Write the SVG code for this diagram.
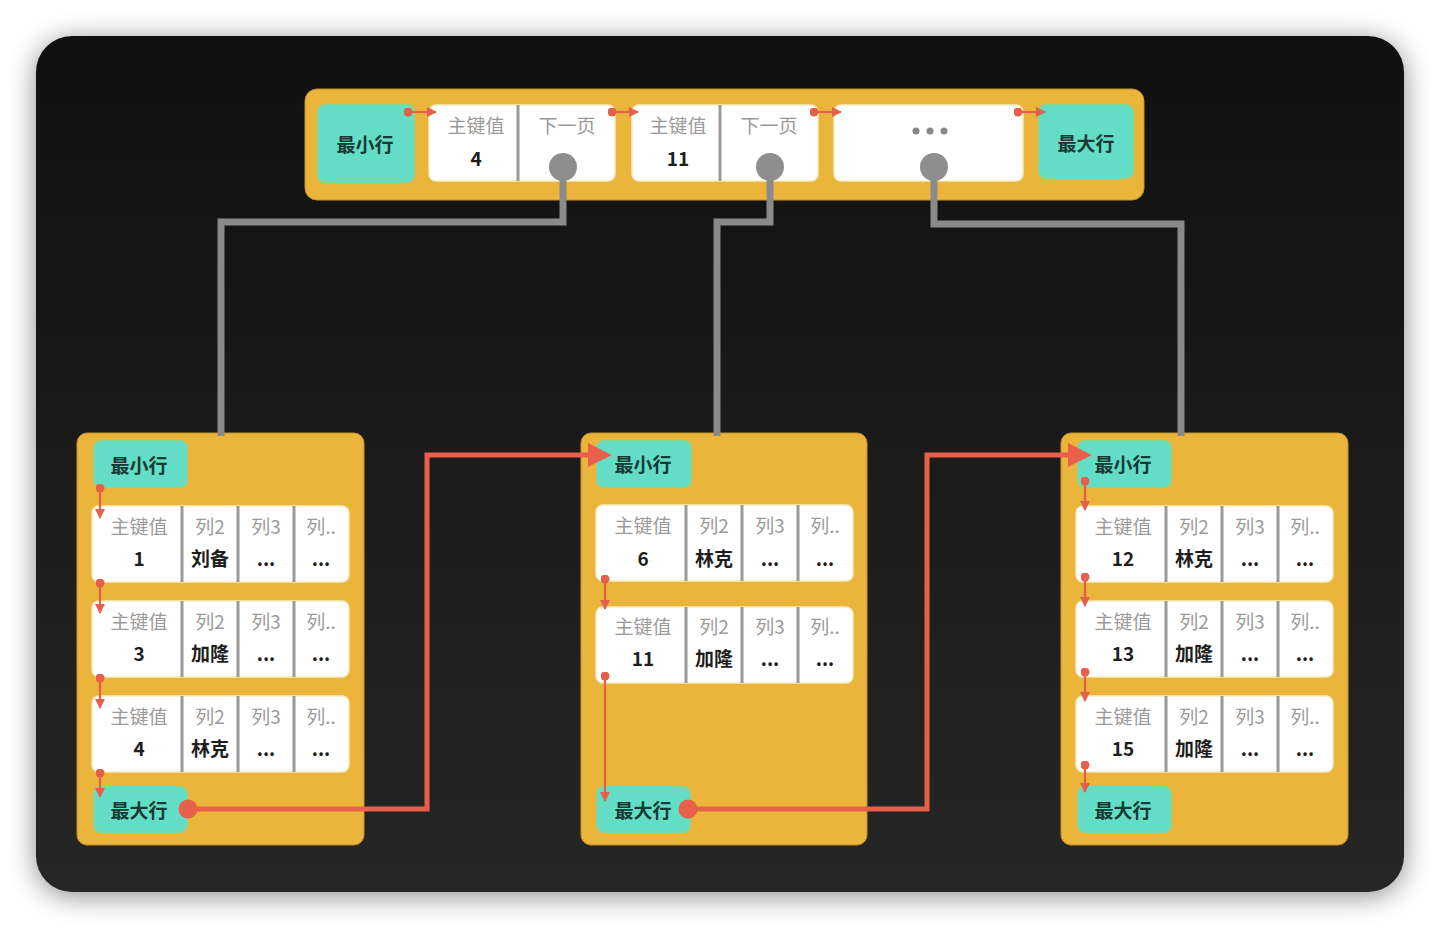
<svg xmlns="http://www.w3.org/2000/svg" xmlns:xlink="http://www.w3.org/1999/xlink" width="1440" height="928" viewBox="0 0 1440 928">
<defs>
<linearGradient id="bg" x1="0" y1="0" x2="0" y2="1">
<stop offset="0" stop-color="#101010"/>
<stop offset="1" stop-color="#262626"/>
</linearGradient>
<filter id="sh" x="-10%" y="-10%" width="120%" height="120%">
<feGaussianBlur stdDeviation="14"/>
</filter>
<marker id="dot" viewBox="0 0 10 10" refX="5" refY="5" markerWidth="9" markerHeight="9" markerUnits="userSpaceOnUse">
<circle cx="5" cy="5" r="5" fill="#E5604A"/>
</marker>
<marker id="tri" viewBox="0 0 10 10" refX="9" refY="5" markerWidth="11" markerHeight="10" markerUnits="userSpaceOnUse" orient="auto">
<path d="M0,0 L10,5 L0,10 z" fill="#E5604A"/>
</marker>
<marker id="bigtri" viewBox="0 0 10 10" refX="8" refY="5" markerWidth="24" markerHeight="24" markerUnits="userSpaceOnUse" orient="auto">
<path d="M0,0 L10,5 L0,10 z" fill="#E8604A"/>
</marker>
<g id="rowbg">
<rect x="0" y="0" width="257" height="76" rx="7" fill="#FFFFFF" stroke="#F6EBC0" stroke-width="1.5"/>
<line x1="90" y1="0" x2="90" y2="76" stroke="#999" stroke-width="3"/>
<line x1="146" y1="0" x2="146" y2="76" stroke="#999" stroke-width="3"/>
<line x1="202" y1="0" x2="202" y2="76" stroke="#999" stroke-width="3"/>
</g>
</defs>
<style>
.node{fill:#EBB43B;stroke:#C8902A;stroke-width:1}
.teal{fill:#63DDC6;stroke:#7ED9A0;stroke-width:2}
.cell{fill:#FFFFFF;stroke:#F6EBC0;stroke-width:1.5}
text{font-family:"Noto Sans CJK SC","Noto Sans",sans-serif;text-anchor:middle;dominant-baseline:central;font-size:19px}
.lab{fill:#9A9A9A}
.val{fill:#1E1E1E;font-weight:700}
.tl{fill:#183A34;font-weight:700}
.sm{stroke:#E5604A;stroke-width:2.2;fill:none;marker-start:url(#dot);marker-end:url(#tri)}
.gray{stroke:#8A8A8A;stroke-width:7;fill:none}
.red{stroke:#E8604A;stroke-width:5;fill:none;marker-end:url(#bigtri)}
</style>

<rect width="1440" height="928" fill="#FFFFFF"/>
<rect x="36" y="40" width="1368" height="856" rx="36" fill="#000" opacity="0.45" filter="url(#sh)"/>
<rect x="36" y="36" width="1368" height="856" rx="36" fill="url(#bg)"/>

<g id="root-node">
<rect class="node" x="305" y="89" width="839" height="111" rx="12"/>
<rect class="teal" x="318" y="105" width="96" height="77" rx="7"/>
<text class="tl" x="365" y="143">最小行</text>
<rect class="cell" x="429" y="105" width="186" height="76" rx="7"/>
<line x1="518" y1="105" x2="518" y2="181" stroke="#999" stroke-width="3"/>
<text class="lab" x="476" y="124">主键值</text>
<text class="val" x="476" y="157">4</text>
<text class="lab" x="567" y="124">下一页</text>
<rect class="cell" x="632" y="105" width="186" height="76" rx="7"/>
<line x1="720" y1="105" x2="720" y2="181" stroke="#999" stroke-width="3"/>
<text class="lab" x="678" y="124">主键值</text>
<text class="val" x="678" y="157">11</text>
<text class="lab" x="769" y="124">下一页</text>
<rect class="cell" x="834" y="105" width="189" height="76" rx="7"/>
<circle cx="916" cy="131" r="3.5" fill="#888"/>
<circle cx="930" cy="131" r="3.5" fill="#888"/>
<circle cx="944" cy="131" r="3.5" fill="#888"/>
<rect class="teal" x="1039" y="105" width="94" height="73" rx="7"/>
<text class="tl" x="1086" y="142">最大行</text>
<line class="sm" x1="408" y1="112" x2="436" y2="112"/>
<line class="sm" x1="612" y1="112" x2="638" y2="112"/>
<line class="sm" x1="814" y1="112" x2="841" y2="112"/>
<line class="sm" x1="1018" y1="112" x2="1045" y2="112"/>
</g>

<g id="leaf-left">
<rect class="node" x="77" y="433" width="287" height="412" rx="10"/>
<rect class="teal" x="94" y="441" width="93" height="46" rx="7"/>
<text class="tl" x="139" y="464">最小行</text>
<g transform="translate(92,506)">
<use xlink:href="#rowbg"/>
<text class="lab" x="47" y="19">主键值</text><text class="val" x="47" y="51">1</text>
<text class="lab" x="118" y="19">列2</text><text class="val" x="118" y="51">刘备</text>
<text class="lab" x="174" y="19">列3</text><text class="val" x="174" y="51">...</text>
<text class="lab" x="229" y="19">列..</text><text class="val" x="229" y="51">...</text>
</g>
<g transform="translate(92,601)">
<use xlink:href="#rowbg"/>
<text class="lab" x="47" y="19">主键值</text><text class="val" x="47" y="51">3</text>
<text class="lab" x="118" y="19">列2</text><text class="val" x="118" y="51">加隆</text>
<text class="lab" x="174" y="19">列3</text><text class="val" x="174" y="51">...</text>
<text class="lab" x="229" y="19">列..</text><text class="val" x="229" y="51">...</text>
</g>
<g transform="translate(92,696)">
<use xlink:href="#rowbg"/>
<text class="lab" x="47" y="19">主键值</text><text class="val" x="47" y="51">4</text>
<text class="lab" x="118" y="19">列2</text><text class="val" x="118" y="51">林克</text>
<text class="lab" x="174" y="19">列3</text><text class="val" x="174" y="51">...</text>
<text class="lab" x="229" y="19">列..</text><text class="val" x="229" y="51">...</text>
</g>
<rect class="teal" x="94" y="787" width="93" height="45" rx="7"/>
<text class="tl" x="139" y="809">最大行</text>
<line class="sm" x1="100" y1="488" x2="100" y2="518"/>
<line class="sm" x1="100" y1="583" x2="100" y2="613"/>
<line class="sm" x1="100" y1="678" x2="100" y2="708"/>
<line class="sm" x1="100" y1="773" x2="100" y2="797"/>
</g>

<g id="leaf-middle">
<rect class="node" x="581" y="433" width="286" height="412" rx="10"/>
<rect class="teal" x="597" y="441" width="94" height="46" rx="7"/>
<text class="tl" x="643" y="463">最小行</text>
<g transform="translate(596,505)">
<use xlink:href="#rowbg"/>
<text class="lab" x="47" y="19">主键值</text><text class="val" x="47" y="52">6</text>
<text class="lab" x="118" y="19">列2</text><text class="val" x="118" y="52">林克</text>
<text class="lab" x="174" y="19">列3</text><text class="val" x="174" y="52">...</text>
<text class="lab" x="229" y="19">列..</text><text class="val" x="229" y="52">...</text>
</g>
<g transform="translate(596,607)">
<use xlink:href="#rowbg"/>
<text class="lab" x="47" y="18">主键值</text><text class="val" x="47" y="50">11</text>
<text class="lab" x="118" y="18">列2</text><text class="val" x="118" y="50">加隆</text>
<text class="lab" x="174" y="18">列3</text><text class="val" x="174" y="50">...</text>
<text class="lab" x="229" y="18">列..</text><text class="val" x="229" y="50">...</text>
</g>
<rect class="teal" x="597" y="787" width="93" height="45" rx="7"/>
<text class="tl" x="643" y="809">最大行</text>
<line class="sm" x1="605" y1="579" x2="605" y2="609"/>
<line class="sm" x1="605" y1="676" x2="605" y2="801"/>
</g>

<g id="leaf-right">
<rect class="node" x="1061" y="433" width="287" height="412" rx="10"/>
<rect class="teal" x="1078" y="441" width="93" height="46" rx="7"/>
<text class="tl" x="1123" y="463">最小行</text>
<g transform="translate(1076,506)">
<use xlink:href="#rowbg"/>
<text class="lab" x="47" y="19">主键值</text><text class="val" x="47" y="51">12</text>
<text class="lab" x="118" y="19">列2</text><text class="val" x="118" y="51">林克</text>
<text class="lab" x="174" y="19">列3</text><text class="val" x="174" y="51">...</text>
<text class="lab" x="229" y="19">列..</text><text class="val" x="229" y="51">...</text>
</g>
<g transform="translate(1076,601)">
<use xlink:href="#rowbg"/>
<text class="lab" x="47" y="19">主键值</text><text class="val" x="47" y="51">13</text>
<text class="lab" x="118" y="19">列2</text><text class="val" x="118" y="51">加隆</text>
<text class="lab" x="174" y="19">列3</text><text class="val" x="174" y="51">...</text>
<text class="lab" x="229" y="19">列..</text><text class="val" x="229" y="51">...</text>
</g>
<g transform="translate(1076,696)">
<use xlink:href="#rowbg"/>
<text class="lab" x="47" y="19">主键值</text><text class="val" x="47" y="51">15</text>
<text class="lab" x="118" y="19">列2</text><text class="val" x="118" y="51">加隆</text>
<text class="lab" x="174" y="19">列3</text><text class="val" x="174" y="51">...</text>
<text class="lab" x="229" y="19">列..</text><text class="val" x="229" y="51">...</text>
</g>
<rect class="teal" x="1078" y="787" width="93" height="45" rx="7"/>
<text class="tl" x="1123" y="809">最大行</text>
<line class="sm" x1="1085" y1="481" x2="1085" y2="510"/>
<line class="sm" x1="1085" y1="577" x2="1085" y2="606"/>
<line class="sm" x1="1085" y1="672" x2="1085" y2="701"/>
<line class="sm" x1="1085" y1="765" x2="1085" y2="792"/>
</g>

<g id="connectors">
<path class="gray" d="M563,167 V222 H221 V436"/>
<path class="gray" d="M770,167 V222 H717 V436"/>
<path class="gray" d="M934,167 V224 H1181 V436"/>
<circle cx="563" cy="167" r="14" fill="#8E8E8E"/>
<circle cx="770" cy="167" r="14" fill="#8E8E8E"/>
<circle cx="934" cy="167" r="14" fill="#8E8E8E"/>
<path class="red" d="M188,809 H427 V455 H607"/>
<path class="red" d="M688,809 H927 V455 H1087"/>
<circle cx="188" cy="809" r="9.5" fill="#E8604A"/>
<circle cx="688" cy="809" r="9.5" fill="#E8604A"/>
</g>
</svg>
